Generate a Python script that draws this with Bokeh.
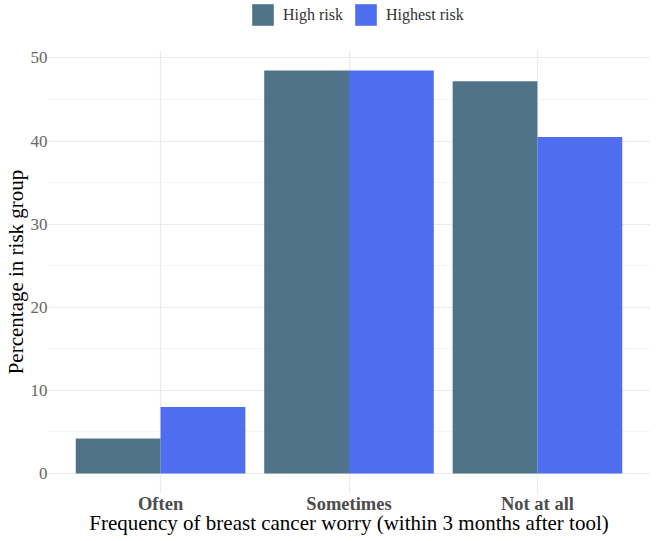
from bokeh.plotting import figure
from bokeh.layouts import column
from bokeh.models import ColumnDataSource, Range1d, FixedTicker, Legend, LegendItem
from bokeh.transform import dodge
from bokeh.embed import file_html
from bokeh.resources import INLINE

categories = ["Often", "Sometimes", "Not at all"]
high_risk = [4.2, 48.5, 47.2]
highest_risk = [8.0, 48.5, 40.5]
series_names = ["High risk", "Highest risk"]
y_ticks = [0, 10, 20, 30, 40, 50]

FONT = "Liberation Serif"
C_HIGH = "#4F7489"
C_HIGHEST = "#4F6DEF"

xs = list(range(1, len(categories) + 1))
src = ColumnDataSource(dict(x=xs, high=high_risk, highest=highest_risk))

# ---- main chart ----
p = figure(width=650, height=511, output_backend="svg", toolbar_location=None,
           x_range=Range1d(0.4, 3.6), y_range=Range1d(-2.42, 50.9),
           min_border_left=39, min_border_right=0, min_border_top=24, min_border_bottom=40)
p.outline_line_color = None
p.background_fill_color = "white"

bw = 0.45
p.vbar(x=dodge("x", -bw / 2), top="high", bottom=0, width=bw, source=src,
       fill_color=C_HIGH, line_color=None)
p.vbar(x=dodge("x", bw / 2), top="highest", bottom=0, width=bw, source=src,
       fill_color=C_HIGHEST, line_color=None)

p.xaxis.ticker = FixedTicker(ticks=xs)
p.xaxis.major_label_overrides = {x: c for x, c in zip(xs, categories)}
p.yaxis.ticker = FixedTicker(ticks=y_ticks, minor_ticks=[5, 15, 25, 35, 45])
for ax in (p.xaxis[0], p.yaxis[0]):
    ax.axis_line_color = None
    ax.major_tick_line_color = None
    ax.minor_tick_line_color = None
    ax.major_tick_out = 0
    ax.minor_tick_out = 0
    ax.major_label_text_font = FONT
    ax.axis_label_text_font = FONT
    ax.axis_label_text_font_style = "normal"
    ax.axis_label_text_color = "black"
    ax.axis_label_text_font_size = "21px"
p.xaxis.major_label_text_font_style = "bold"
p.xaxis.major_label_text_font_size = "18.5px"
p.xaxis.major_label_text_color = "#4D4D4D"
p.xaxis.major_label_standoff = 0
p.xaxis.axis_label_standoff = -6
p.xaxis.axis_label = "Frequency of breast cancer worry (within 3 months after tool)"
p.yaxis.major_label_text_font_size = "17px"
p.yaxis.major_label_text_color = "#666666"
p.yaxis.major_label_standoff = 0
p.yaxis.axis_label_standoff = 0
p.yaxis.axis_label = "Percentage in risk group"

p.ygrid.grid_line_color = "#EBEBEB"
p.ygrid.grid_line_width = 1.2
p.ygrid.minor_grid_line_color = "#F4F4F4"
p.ygrid.minor_grid_line_width = 1
p.xgrid.grid_line_color = "#EBEBEB"
p.xgrid.grid_line_width = 1.2
p.xgrid.level = "underlay"
p.ygrid.level = "underlay"

# ---- legend strip on top ----
lg = figure(width=650, height=26, output_backend="svg", toolbar_location=None,
            x_axis_type=None, y_axis_type=None,
            x_range=Range1d(100, 101), y_range=Range1d(100, 101),
            min_border=0)
lg.outline_line_color = None
l1 = lg.vbar(x="x", top="high", width=bw, source=src, fill_color=C_HIGH, line_color=None)
l2 = lg.vbar(x="x", top="highest", width=bw, source=src, fill_color=C_HIGHEST, line_color=None)
legend = Legend(items=[LegendItem(label=series_names[0], renderers=[l1]),
                       LegendItem(label=series_names[1], renderers=[l2])],
                orientation="horizontal", location=(202, -2),
                glyph_width=27, glyph_height=27, label_standoff=7, spacing=9,
                label_text_font=FONT, label_text_font_size="16px", label_text_color="#333333",
                border_line_color=None, background_fill_alpha=0, padding=0, margin=0)
lg.add_layout(legend, "center")

open("out.html", "w").write(file_html(column(lg, p, spacing=0), INLINE))
